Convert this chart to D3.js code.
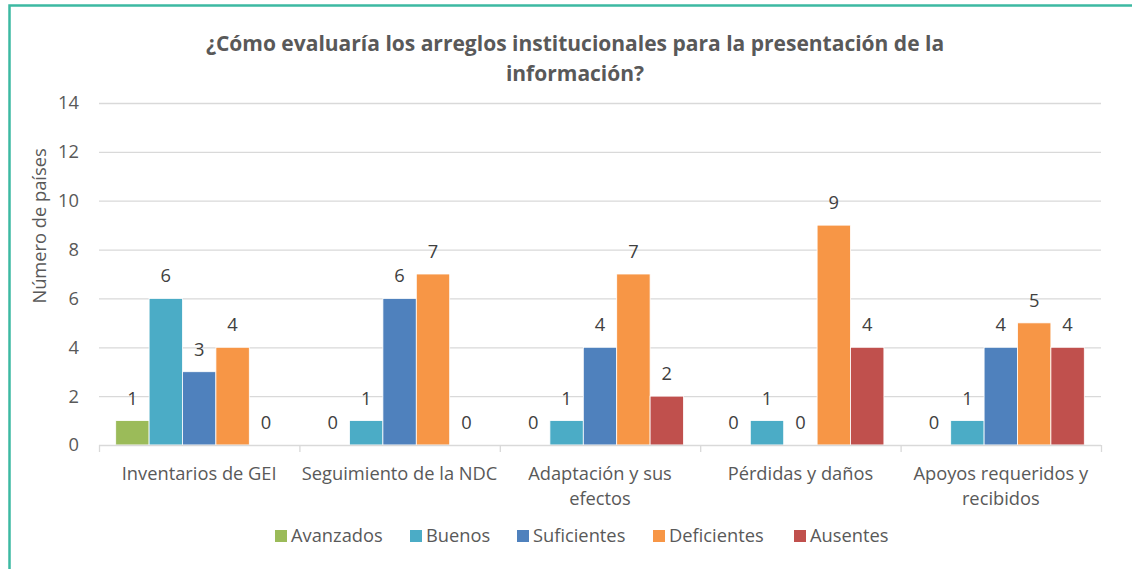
<!DOCTYPE html>
<html>
<head>
<meta charset="utf-8">
<script src="https://cdn.jsdelivr.net/npm/d3@7"></script>
<style>
  html, body { margin: 0; padding: 0; background: #fff; }
  svg { display: block; font-family: "Open Sans", sans-serif; }
</style>
</head>
<body>
<svg id="chart" width="1132" height="569"></svg>
<script>
const categories = [["Inventarios de GEI"], ["Seguimiento de la NDC"], ["Adaptación y sus", "efectos"], ["Pérdidas y daños"], ["Apoyos requeridos y", "recibidos"]];
const seriesNames = ["Avanzados", "Buenos", "Suficientes", "Deficientes", "Ausentes"];
const avanzados   = [1, 0, 0, 0, 0];
const buenos      = [6, 1, 1, 1, 1];
const suficientes = [3, 6, 4, 0, 4];
const deficientes = [4, 7, 7, 9, 5];
const ausentes    = [0, 0, 2, 4, 4];
const yTicks = [0, 2, 4, 6, 8, 10, 12, 14];
const colors = ["#9BBB59", "#4BACC6", "#4F81BD", "#F79646", "#C0504D"];

const seriesValues = [avanzados, buenos, suficientes, deficientes, ausentes];
const svg = d3.select("#chart");
const W = 1132, H = 569;
const m = { left: 99, right: 1101, top: 103, bottom: 445 };
const textColor = "#595959";
const fs = 18.3;

// Border
svg.append("path")
  .attr("d", `M9.5,${H + 5} L9.5,5.5 L${W + 5},5.5`)
  .attr("fill", "none").attr("stroke", "#3DB9A2").attr("stroke-width", 2.5);

// Title
const title = svg.append("text").attr("text-anchor", "middle")
  .attr("font-weight", "bold").attr("font-size", 21).attr("fill", textColor);
title.append("tspan").attr("x", 575).attr("y", 51).text("¿Cómo evaluaría los arreglos institucionales para la presentación de la");
title.append("tspan").attr("x", 575).attr("y", 81).text("información?");

const x0 = d3.scaleBand().domain(d3.range(categories.length)).range([m.left, m.right]).paddingInner(0).paddingOuter(0);
const x1 = d3.scaleBand().domain(d3.range(seriesNames.length)).range([0, x0.bandwidth()]).paddingInner(0).paddingOuter(0.5);
const y = d3.scaleLinear().domain([0, 14]).range([m.bottom, m.top]);

// Gridlines
svg.append("g").selectAll("line").data(yTicks.filter(d => d > 0)).join("line")
  .attr("x1", m.left).attr("x2", m.right)
  .attr("y1", d => y(d) + 0.5).attr("y2", d => y(d) + 0.5)
  .attr("stroke", "#D9D9D9").attr("stroke-width", 1.3);

// Y tick labels
svg.append("g").selectAll("text").data(yTicks).join("text")
  .attr("x", 79).attr("y", d => y(d)).attr("dy", "0.35em")
  .attr("text-anchor", "end").attr("font-size", fs).attr("fill", textColor)
  .text(d => d);

// Y axis title
svg.append("text")
  .attr("transform", `translate(46,226) rotate(-90)`)
  .attr("text-anchor", "middle").attr("font-size", fs).attr("fill", textColor)
  .text("Número de países");

// Bars
const groups = svg.append("g").selectAll("g").data(categories).join("g")
  .attr("transform", (d, i) => `translate(${x0(i)},0)`);
groups.each(function(c, ci) {
  const g = d3.select(this);
  seriesNames.forEach((s, si) => {
    const v = seriesValues[si][ci];
    if (v > 0) {
      g.append("rect")
        .attr("x", x1(si)).attr("width", x1.bandwidth())
        .attr("y", y(v)).attr("height", y(0) - y(v))
        .attr("fill", colors[si]).attr("stroke", "#fff").attr("stroke-width", 0.8);
    }
    g.append("text")
      .attr("x", x1(si) + x1.bandwidth() / 2)
      .attr("y", y(v) - 16)
      .attr("text-anchor", "middle").attr("font-size", fs).attr("fill", "#404040")
      .text(v);
  });
});

// X axis line and ticks
svg.append("line").attr("x1", m.left).attr("x2", m.right)
  .attr("y1", m.bottom + 0.5).attr("y2", m.bottom + 0.5)
  .attr("stroke", "#D9D9D9").attr("stroke-width", 1.3);
svg.append("g").selectAll("line").data(d3.range(categories.length + 1)).join("line")
  .attr("x1", i => (i < categories.length ? x0(i) : m.right) + 0.5)
  .attr("x2", i => (i < categories.length ? x0(i) : m.right) + 0.5)
  .attr("y1", m.bottom).attr("y2", m.bottom + 7)
  .attr("stroke", "#D9D9D9").attr("stroke-width", 1.3);

// Category labels
svg.append("g").selectAll("text").data(categories).join("text")
  .attr("text-anchor", "middle").attr("font-size", fs).attr("fill", textColor)
  .each(function(lines, i) {
    const t = d3.select(this);
    lines.forEach((l, li) => {
      t.append("tspan").attr("x", x0(i) + x0.bandwidth() / 2).attr("y", 480 + li * 25).text(l);
    });
  });

// Legend
const legendX = [275, 410, 517, 653, 794];
const lg = svg.append("g").selectAll("g").data(seriesNames).join("g")
  .attr("transform", (d, i) => `translate(${legendX[i]},530)`);
lg.append("rect").attr("width", 12).attr("height", 12).attr("fill", (d, i) => colors[i]);
lg.append("text").attr("x", 16).attr("y", 6).attr("dy", "0.35em")
  .attr("font-size", fs).attr("fill", textColor).text(d => d);
</script>
</body>
</html>
